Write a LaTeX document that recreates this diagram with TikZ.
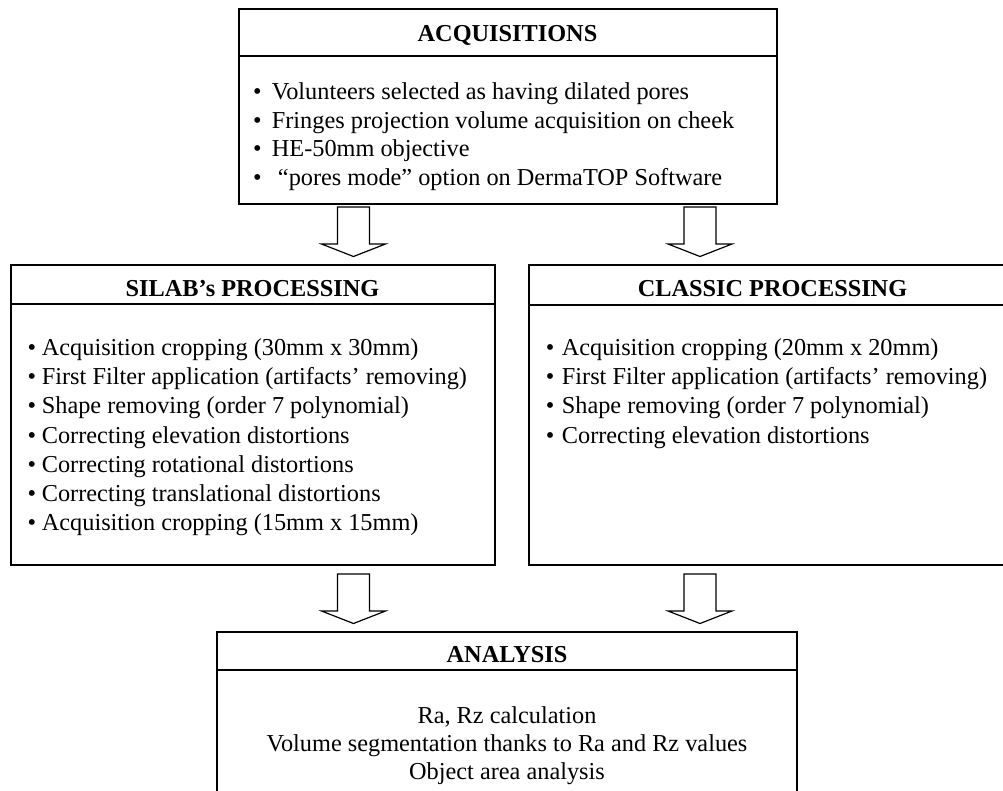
\documentclass[tikz,border=0pt]{standalone}
\usepackage{fontspec}
\setmainfont{Liberation Serif}
\newcommand{\bul}[1]{\makebox[#1pt][l]{•}}
\newcommand{\bigfont}{\fontsize{24.3}{28.5}\selectfont}
\tikzset{
  box/.style={draw, line width=1.7pt, inner sep=0pt, outer sep=0pt},
  sepline/.style={line width=1.5pt},
  head/.style={anchor=base, inner sep=0pt, font=\bigfont\bfseries},
  item/.style={anchor=base west, inner sep=0pt},
  centreline/.style={anchor=base, inner sep=0pt},
  blockarrow/.style={draw, line width=1.2pt, line join=miter, fill=white},
}
\begin{document}
\begin{tikzpicture}[x=1pt, y=-1pt, font=\bigfont]
\path[use as bounding box, clip] (0,0) rectangle (1003,791);

% boxes
\node[box, minimum width=538pt, minimum height=195pt] (acq) at (508,106.5) {};
\node[box, minimum width=484pt, minimum height=300pt] (silab) at (253,415) {};
\node[box, minimum width=487pt, minimum height=300pt] (classic) at (772.5,415) {};
\node[box, minimum width=580pt, minimum height=200pt] (analysis) at (507,732) {};

% header separators
\draw[sepline] (acq.west |- 0,56) -- (acq.east |- 0,56);
\draw[sepline] (silab.west |- 0,304) -- (silab.east |- 0,304);
\draw[sepline] (classic.west |- 0,305) -- (classic.east |- 0,305);
\draw[sepline] (analysis.west |- 0,670) -- (analysis.east |- 0,670);

% headers
\node[head] (acqh) at (507.5,42) {ACQUISITIONS};
\node[head] (silabh) at (252.5,297) {SILAB’s PROCESSING};
\node[head] (classich) at (772.5,297) {CLASSIC PROCESSING};
\node[head] (analysish) at (507,662) {ANALYSIS};

% acquisitions items
\foreach \t [count=\i] in {
  {\bul{18.7}Volunteers selected as having dilated pores},
  {\bul{18.7}Fringes projection volume acquisition on cheek},
  {\bul{18.7}HE-50mm objective},
  {\bul{18.7}\ “pores mode” option on DermaTOP Software}}
  \node[item] (acqi\i) at (253,{100+28.5*(\i-1)}) {\t};

% SILAB items
\foreach \t [count=\i] in {
  {Acquisition cropping (30mm x 30mm)},
  {First Filter application (artifacts’ removing)},
  {Shape removing (order 7 polynomial)},
  {Correcting elevation distortions},
  {Correcting rotational distortions},
  {Correcting translational distortions},
  {Acquisition cropping (15mm x 15mm)}}
  \node[item] (silabi\i) at (27.4,{355.5+29.2*(\i-1)}) {\bul{14.3}\t};

% classic items
\foreach \t [count=\i] in {
  {Acquisition cropping (20mm x 20mm)},
  {First Filter application (artifacts’ removing)},
  {Shape removing (order 7 polynomial)},
  {Correcting elevation distortions}}
  \node[item] (classici\i) at (545.7,{355.5+29.2*(\i-1)}) {\bul{16}\t};

% analysis lines
\node[centreline] (an1) at (507,723) {Ra, Rz calculation};
\node[centreline] (an2) at (507,751) {Volume segmentation thanks to Ra and Rz values};
\node[centreline] (an3) at (507,779) {Object area analysis};

% block arrows
\coordinate (a1) at (353.5,207);
\coordinate (a2) at (700,207);
\coordinate (a3) at (353.5,574);
\coordinate (a4) at (700,574);
\foreach \c in {a1,a2,a3,a4}
  \draw[blockarrow, shift={(\c)}] (-16,0) -- (16,0) -- (16,37) -- (32,37) -- (0,49.5) -- (-32,37) -- (-16,37) -- cycle;
\end{tikzpicture}
\end{document}
